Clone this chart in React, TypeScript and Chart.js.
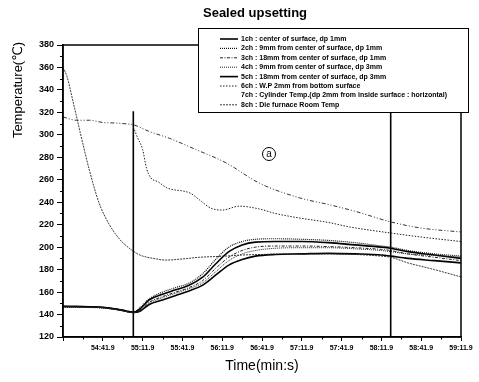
import React, { useEffect, useRef } from 'react';
import { Chart, registerables } from 'chart.js';

Chart.register(...registerables);

// Time axis: seconds after 54:11.9
const timeBaseSeconds = 54 * 60 + 11.9;
const xMin = 0;
const xMax = 300;
const xStep = 30;
const yMin = 120;
const yMax = 380;
const yStep = 20;

// Thermocouples 1ch-5ch share one time base
const groupTimes = [0, 10, 20, 30, 40, 48, 53, 58, 65, 75, 85, 95, 105, 115, 125, 135, 145, 160, 180, 200, 220, 240, 247, 260, 280, 300];
const ch1 = [147.5, 147.3, 147, 146.5, 145, 143, 142, 145, 153, 158, 162, 166, 173, 185, 196, 202, 204.5, 205, 205, 204, 202, 200, 199, 196, 193, 190];
const ch2 = [147, 146.8, 146.6, 146, 144.6, 142.8, 142, 146, 154, 160, 164, 168, 176, 189, 200, 205, 207, 207.5, 207, 206, 204, 201, 200, 197, 194, 192];
const ch3 = [147, 146.8, 146.5, 146, 144.5, 142.5, 141.5, 144, 151, 156, 160, 164, 170, 181, 191, 197, 200, 201, 201, 200.5, 199.5, 198, 197, 194, 191, 188];
const ch4 = [146.5, 146.5, 146.2, 145.8, 144.3, 142.5, 141.5, 143, 150, 155, 159, 163, 168, 178, 188, 194, 197, 199, 199.5, 199.5, 198.5, 197, 196, 194, 192.5, 191];
const ch5 = [147, 147, 146.8, 146.3, 144.8, 143, 142, 143, 149, 153, 157, 161, 166, 175, 184, 189, 192, 193.5, 194, 194.5, 194, 193, 192, 190, 188, 186];

// 6ch: W.P 2mm from bottom surface
const ch6Times = [53, 56, 60, 63, 66, 72, 78, 96, 103, 111, 120, 133, 148, 160, 178, 200, 216, 247, 270, 300];
const ch6 = [307, 298, 287, 270, 262, 258, 253, 248, 242, 235, 233, 236.5, 234, 230, 226, 222, 218, 212.6, 209, 205];

// 7ch: Cylinder temp
const ch7Times = [0, 10, 20, 30, 40, 50, 53, 65, 80, 100, 123, 148, 178, 200, 220, 247, 270, 300];
const ch7 = [316, 313, 313, 311, 310.5, 309.5, 309, 303, 297, 287, 275, 257, 244, 238, 232, 222.5, 217, 213.5];

// 8ch: Die furnace room temp
const ch8Times = [0, 3, 7.5, 13, 20, 27, 34, 42, 50, 58, 68, 78, 90, 103, 122, 135, 150, 170, 200, 220, 240, 247, 260, 280, 300];
const ch8 = [360, 352, 330, 302, 268, 240, 222, 208, 199, 193, 190, 188.5, 189.5, 191, 192, 193, 193.5, 194, 194, 193.5, 192, 191, 186, 180, 173.5];

// vertical event markers
const markerTimes = [53, 247];
const markerRange = [120, 321];

const legendLabels = [
  '1ch : center of surface, dp 1mm',
  '2ch : 9mm from center of surface, dp 1mm',
  '3ch : 18mm from center of surface, dp 1mm',
  '4ch : 9mm from center of surface, dp 3mm',
  '5ch : 18mm from center of surface, dp 3mm',
  '6ch : W.P 2mm from bottom surface',
  '7ch : Cylinder Temp.(dp 2mm from inside surface : horizontal)',
  '8ch : Die furnace Room Temp',
];

const titleText = 'Sealed upsetting';
const yTitleText = 'Temperature(℃)';
const xTitleText = 'Time(min:s)';
const annotationText = 'a';

const zip = (xs: number[], ys: number[]) => xs.map((x, i) => ({ x, y: ys[i] }));

const fmtTime = (v: number) => {
  const total = timeBaseSeconds + v;
  const mm = Math.floor(total / 60 + 1e-9);
  const ss = total - mm * 60;
  return `${mm}:${ss.toFixed(1).padStart(4, '0')}`;
};

const decorPlugin = {
  id: 'decor',
  afterDraw(chart: any) {
    const { ctx, chartArea, scales } = chart;
    const xs = scales.x;
    const ys = scales.y;
    ctx.save();
    // minor ticks
    ctx.strokeStyle = '#000';
    ctx.lineWidth = 1;
    ctx.beginPath();
    for (let v = yMin + yStep / 2; v < yMax; v += yStep) {
      const py = Math.round(ys.getPixelForValue(v)) + 0.5;
      ctx.moveTo(chartArea.left - 3, py);
      ctx.lineTo(chartArea.left, py);
    }
    for (let v = xMin + xStep / 2; v < xMax; v += xStep) {
      const px = Math.round(xs.getPixelForValue(v)) + 0.5;
      ctx.moveTo(px, chartArea.bottom);
      ctx.lineTo(px, chartArea.bottom + 2.5);
    }
    ctx.stroke();
    // frame
    ctx.lineWidth = 1.5;
    ctx.strokeRect(chartArea.left, chartArea.top, chartArea.right - chartArea.left, chartArea.bottom - chartArea.top);

    // title
    ctx.fillStyle = '#000';
    ctx.font = 'bold 13px "Liberation Sans", Arial, sans-serif';
    ctx.textAlign = 'center';
    ctx.textBaseline = 'middle';
    ctx.fillText(titleText, 255, 13);

    // y title
    ctx.save();
    ctx.translate(18, 90);
    ctx.rotate(-Math.PI / 2);
    ctx.font = '13px "Liberation Sans", "DejaVu Sans", sans-serif';
    ctx.fillText(yTitleText, 0, 0);
    ctx.restore();

    // annotation (a)
    ctx.lineWidth = 1;
    ctx.beginPath();
    ctx.arc(269, 154, 6.5, 0, Math.PI * 2);
    ctx.stroke();
    ctx.font = '10px "Liberation Sans", Arial, sans-serif';
    ctx.fillText(annotationText, 269, 154.5);

    // legend box
    const bx = 198, by = 28, bw = 270, bh = 84;
    ctx.fillStyle = '#fff';
    ctx.fillRect(bx, by, bw, bh);
    ctx.strokeStyle = '#000';
    ctx.lineWidth = 1;
    ctx.strokeRect(bx + 0.5, by + 0.5, bw, bh);
    ctx.font = 'bold 7px "Liberation Sans", Arial, sans-serif';
    ctx.textAlign = 'left';
    ctx.textBaseline = 'middle';
    const dsList = chart.data.datasets.filter((d: any) => d.legendIndex !== undefined);
    dsList.forEach((d: any) => {
      const i = d.legendIndex;
      const ry = 39 + i * 9.4;
      if (d.legendSample !== false) {
        ctx.save();
        ctx.strokeStyle = d.borderColor;
        ctx.lineWidth = d.borderWidth;
        ctx.setLineDash(d.borderDash || []);
        ctx.beginPath();
        ctx.moveTo(220, ry);
        ctx.lineTo(238, ry);
        ctx.stroke();
        ctx.restore();
      }
      ctx.fillStyle = '#000';
      ctx.fillText(legendLabels[i], 241, ry);
    });
    ctx.restore();
  },
};

export default function App() {
  const ref = useRef<HTMLCanvasElement>(null);
  useEffect(() => {
    document.body.style.margin = '0';
    const canvas = ref.current!;
    const line = (label: string, data: any[], idx: number, color: string, width: number, dash: number[], extra: any = {}) => ({
      label,
      data,
      legendIndex: idx,
      borderColor: color,
      backgroundColor: color,
      borderWidth: width,
      borderDash: dash,
      pointRadius: 0,
      fill: false,
      tension: 0.4,
      cubicInterpolationMode: 'monotone',
      ...extra,
    });
    const datasets: any[] = [
      line('7ch', zip(ch7Times, ch7), 6, '#333', 1, [4, 2, 1, 2, 1, 2], { legendSample: false }),
      line('6ch', zip(ch6Times, ch6), 5, '#222', 1, [1.5, 1.5]),
      line('8ch', zip(ch8Times, ch8), 7, '#222', 0.9, [2, 1]),
      line('3ch', zip(groupTimes, ch3), 2, '#222', 1, [3, 1.5, 1, 1.5]),
      line('4ch', zip(groupTimes, ch4), 3, '#222', 1, [1, 1]),
      line('2ch', zip(groupTimes, ch2), 1, '#111', 1.2, [1, 1]),
      line('5ch', zip(groupTimes, ch5), 4, '#000', 1.6, []),
      line('1ch', zip(groupTimes, ch1), 0, '#000', 1.6, []),
      ...markerTimes.map((t) => ({
        label: 'marker',
        data: [{ x: t, y: markerRange[0] }, { x: t, y: markerRange[1] }],
        borderColor: '#000',
        borderWidth: 1.6,
        pointRadius: 0,
        tension: 0,
      })),
    ];
    const chart = new Chart(canvas, {
      type: 'line',
      data: { datasets },
      options: {
        animation: false,
        responsive: true,
        maintainAspectRatio: false,
        layout: { padding: { top: 45, right: 18, left: 0, bottom: 0 } },
        plugins: { legend: { display: false }, tooltip: { enabled: false }, title: { display: false } },
        scales: {
          x: {
            type: 'linear',
            min: xMin,
            max: xMax,
            afterFit: (s: any) => { s.height = 45; },
            ticks: {
              stepSize: xStep,
              autoSkip: false,
              maxRotation: 0,
              padding: 3,
              color: '#000',
              font: { family: '"Liberation Sans", Arial, sans-serif', size: 7, weight: 'bold' },
              callback: (v: any) => (Number(v) === xMin ? '' : fmtTime(Number(v))),
            },
            grid: { display: true, drawOnChartArea: false, drawTicks: true, tickLength: 4, color: '#000', lineWidth: 1 },
            border: { display: true, color: '#000', width: 1.5 },
            title: {
              display: true,
              text: xTitleText,
              color: '#000',
              font: { family: '"Liberation Sans", Arial, sans-serif', size: 14 },
              padding: { top: 0, bottom: 7 },
            },
          },
          y: {
            type: 'linear',
            min: yMin,
            max: yMax,
            afterFit: (s: any) => { s.width = 63; },
            ticks: {
              stepSize: yStep,
              padding: 3,
              color: '#000',
              font: { family: '"Liberation Sans", Arial, sans-serif', size: 9, weight: 'bold' },
            },
            grid: { display: true, drawOnChartArea: false, drawTicks: true, tickLength: 6, color: '#000', lineWidth: 1 },
            border: { display: true, color: '#000', width: 1.5 },
          },
        },
      },
      plugins: [decorPlugin],
    } as any);
    return () => chart.destroy();
  }, []);
  return (
    <div style={{ width: 479, height: 382, position: 'relative' }}>
      <canvas ref={ref} style={{ display: 'block' }} />
    </div>
  );
}
